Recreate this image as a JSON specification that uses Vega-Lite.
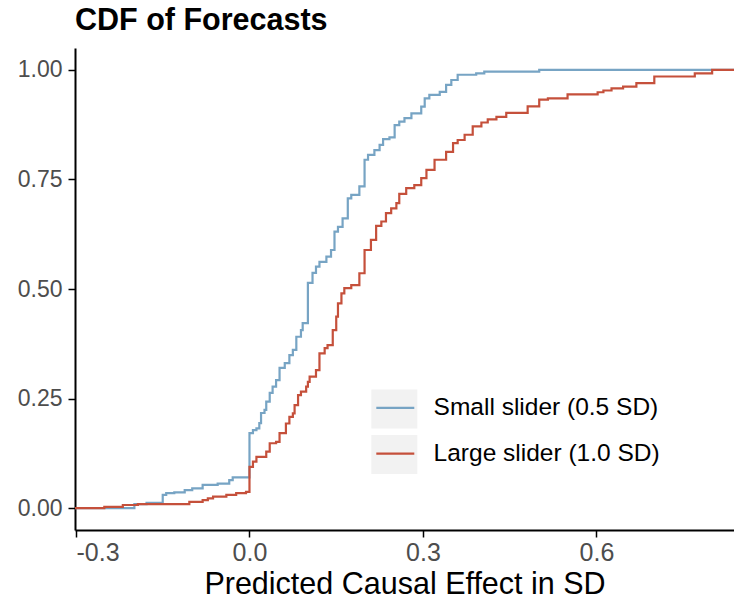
{
  "$schema": "https://vega.github.io/schema/vega-lite/v6.json",
  "width": 659,
  "height": 482,
  "autosize": {"type": "none"},
  "padding": {"left": 75, "top": 48, "right": 0, "bottom": 75},
  "background": "white",
  "title": {"text": "CDF of Forecasts", "anchor": "start", "frame": "group", "font": "Liberation Sans", "fontSize": 30.5, "fontWeight": "bold", "color": "black", "offset": 9},
  "config": {
    "view": {"stroke": null},
    "axis": {"grid": false, "domainColor": "black", "domainWidth": 2, "tickColor": "black", "tickWidth": 1.5, "tickSize": 7, "labelFont": "Liberation Sans", "labelColor": "#4D4D4D", "titleFont": "Liberation Sans", "titleColor": "black", "titleFontWeight": "normal"}
  },
  "data": {"values": [
    {"series": "Small slider (0.5 SD)", "x": -0.3017, "cdf": 0},
    {"series": "Small slider (0.5 SD)", "x": -0.199, "cdf": 0.009},
    {"series": "Small slider (0.5 SD)", "x": -0.178, "cdf": 0.012},
    {"series": "Small slider (0.5 SD)", "x": -0.150, "cdf": 0.030},
    {"series": "Small slider (0.5 SD)", "x": -0.144, "cdf": 0.034},
    {"series": "Small slider (0.5 SD)", "x": -0.130, "cdf": 0.036},
    {"series": "Small slider (0.5 SD)", "x": -0.112, "cdf": 0.041},
    {"series": "Small slider (0.5 SD)", "x": -0.099, "cdf": 0.045},
    {"series": "Small slider (0.5 SD)", "x": -0.081, "cdf": 0.053},
    {"series": "Small slider (0.5 SD)", "x": -0.055, "cdf": 0.056},
    {"series": "Small slider (0.5 SD)", "x": -0.035, "cdf": 0.064},
    {"series": "Small slider (0.5 SD)", "x": -0.029, "cdf": 0.070},
    {"series": "Small slider (0.5 SD)", "x": 0.000, "cdf": 0.171},
    {"series": "Small slider (0.5 SD)", "x": 0.006, "cdf": 0.178},
    {"series": "Small slider (0.5 SD)", "x": 0.012, "cdf": 0.182},
    {"series": "Small slider (0.5 SD)", "x": 0.017, "cdf": 0.194},
    {"series": "Small slider (0.5 SD)", "x": 0.020, "cdf": 0.217},
    {"series": "Small slider (0.5 SD)", "x": 0.026, "cdf": 0.224},
    {"series": "Small slider (0.5 SD)", "x": 0.029, "cdf": 0.243},
    {"series": "Small slider (0.5 SD)", "x": 0.035, "cdf": 0.263},
    {"series": "Small slider (0.5 SD)", "x": 0.040, "cdf": 0.277},
    {"series": "Small slider (0.5 SD)", "x": 0.046, "cdf": 0.292},
    {"series": "Small slider (0.5 SD)", "x": 0.052, "cdf": 0.320},
    {"series": "Small slider (0.5 SD)", "x": 0.061, "cdf": 0.331},
    {"series": "Small slider (0.5 SD)", "x": 0.069, "cdf": 0.349},
    {"series": "Small slider (0.5 SD)", "x": 0.075, "cdf": 0.361},
    {"series": "Small slider (0.5 SD)", "x": 0.081, "cdf": 0.391},
    {"series": "Small slider (0.5 SD)", "x": 0.089, "cdf": 0.406},
    {"series": "Small slider (0.5 SD)", "x": 0.092, "cdf": 0.422},
    {"series": "Small slider (0.5 SD)", "x": 0.101, "cdf": 0.514},
    {"series": "Small slider (0.5 SD)", "x": 0.109, "cdf": 0.537},
    {"series": "Small slider (0.5 SD)", "x": 0.115, "cdf": 0.551},
    {"series": "Small slider (0.5 SD)", "x": 0.121, "cdf": 0.562},
    {"series": "Small slider (0.5 SD)", "x": 0.133, "cdf": 0.574},
    {"series": "Small slider (0.5 SD)", "x": 0.141, "cdf": 0.589},
    {"series": "Small slider (0.5 SD)", "x": 0.147, "cdf": 0.631},
    {"series": "Small slider (0.5 SD)", "x": 0.153, "cdf": 0.642},
    {"series": "Small slider (0.5 SD)", "x": 0.161, "cdf": 0.661},
    {"series": "Small slider (0.5 SD)", "x": 0.170, "cdf": 0.707},
    {"series": "Small slider (0.5 SD)", "x": 0.176, "cdf": 0.715},
    {"series": "Small slider (0.5 SD)", "x": 0.190, "cdf": 0.734},
    {"series": "Small slider (0.5 SD)", "x": 0.199, "cdf": 0.795},
    {"series": "Small slider (0.5 SD)", "x": 0.205, "cdf": 0.806},
    {"series": "Small slider (0.5 SD)", "x": 0.216, "cdf": 0.817},
    {"series": "Small slider (0.5 SD)", "x": 0.225, "cdf": 0.829},
    {"series": "Small slider (0.5 SD)", "x": 0.231, "cdf": 0.842},
    {"series": "Small slider (0.5 SD)", "x": 0.242, "cdf": 0.846},
    {"series": "Small slider (0.5 SD)", "x": 0.251, "cdf": 0.874},
    {"series": "Small slider (0.5 SD)", "x": 0.259, "cdf": 0.882},
    {"series": "Small slider (0.5 SD)", "x": 0.268, "cdf": 0.890},
    {"series": "Small slider (0.5 SD)", "x": 0.280, "cdf": 0.901},
    {"series": "Small slider (0.5 SD)", "x": 0.297, "cdf": 0.916},
    {"series": "Small slider (0.5 SD)", "x": 0.303, "cdf": 0.935},
    {"series": "Small slider (0.5 SD)", "x": 0.311, "cdf": 0.943},
    {"series": "Small slider (0.5 SD)", "x": 0.329, "cdf": 0.950},
    {"series": "Small slider (0.5 SD)", "x": 0.340, "cdf": 0.966},
    {"series": "Small slider (0.5 SD)", "x": 0.349, "cdf": 0.977},
    {"series": "Small slider (0.5 SD)", "x": 0.360, "cdf": 0.989},
    {"series": "Small slider (0.5 SD)", "x": 0.392, "cdf": 0.992},
    {"series": "Small slider (0.5 SD)", "x": 0.406, "cdf": 0.996},
    {"series": "Small slider (0.5 SD)", "x": 0.501, "cdf": 1.0},
    {"series": "Small slider (0.5 SD)", "x": 0.8378, "cdf": 1.0},
    {"series": "Large slider (1.0 SD)", "x": -0.3017, "cdf": 0},
    {"series": "Large slider (1.0 SD)", "x": -0.251, "cdf": 0.003},
    {"series": "Large slider (1.0 SD)", "x": -0.219, "cdf": 0.007},
    {"series": "Large slider (1.0 SD)", "x": -0.193, "cdf": 0.009},
    {"series": "Large slider (1.0 SD)", "x": -0.104, "cdf": 0.014},
    {"series": "Large slider (1.0 SD)", "x": -0.081, "cdf": 0.018},
    {"series": "Large slider (1.0 SD)", "x": -0.072, "cdf": 0.022},
    {"series": "Large slider (1.0 SD)", "x": -0.063, "cdf": 0.026},
    {"series": "Large slider (1.0 SD)", "x": -0.040, "cdf": 0.030},
    {"series": "Large slider (1.0 SD)", "x": -0.023, "cdf": 0.034},
    {"series": "Large slider (1.0 SD)", "x": -0.006, "cdf": 0.037},
    {"series": "Large slider (1.0 SD)", "x": 0.000, "cdf": 0.094},
    {"series": "Large slider (1.0 SD)", "x": 0.006, "cdf": 0.106},
    {"series": "Large slider (1.0 SD)", "x": 0.012, "cdf": 0.117},
    {"series": "Large slider (1.0 SD)", "x": 0.029, "cdf": 0.129},
    {"series": "Large slider (1.0 SD)", "x": 0.035, "cdf": 0.148},
    {"series": "Large slider (1.0 SD)", "x": 0.046, "cdf": 0.151},
    {"series": "Large slider (1.0 SD)", "x": 0.052, "cdf": 0.171},
    {"series": "Large slider (1.0 SD)", "x": 0.063, "cdf": 0.193},
    {"series": "Large slider (1.0 SD)", "x": 0.069, "cdf": 0.208},
    {"series": "Large slider (1.0 SD)", "x": 0.075, "cdf": 0.216},
    {"series": "Large slider (1.0 SD)", "x": 0.078, "cdf": 0.235},
    {"series": "Large slider (1.0 SD)", "x": 0.084, "cdf": 0.258},
    {"series": "Large slider (1.0 SD)", "x": 0.089, "cdf": 0.266},
    {"series": "Large slider (1.0 SD)", "x": 0.098, "cdf": 0.277},
    {"series": "Large slider (1.0 SD)", "x": 0.101, "cdf": 0.288},
    {"series": "Large slider (1.0 SD)", "x": 0.104, "cdf": 0.300},
    {"series": "Large slider (1.0 SD)", "x": 0.115, "cdf": 0.315},
    {"series": "Large slider (1.0 SD)", "x": 0.121, "cdf": 0.353},
    {"series": "Large slider (1.0 SD)", "x": 0.130, "cdf": 0.365},
    {"series": "Large slider (1.0 SD)", "x": 0.135, "cdf": 0.372},
    {"series": "Large slider (1.0 SD)", "x": 0.144, "cdf": 0.406},
    {"series": "Large slider (1.0 SD)", "x": 0.150, "cdf": 0.437},
    {"series": "Large slider (1.0 SD)", "x": 0.153, "cdf": 0.467},
    {"series": "Large slider (1.0 SD)", "x": 0.159, "cdf": 0.490},
    {"series": "Large slider (1.0 SD)", "x": 0.164, "cdf": 0.502},
    {"series": "Large slider (1.0 SD)", "x": 0.176, "cdf": 0.509},
    {"series": "Large slider (1.0 SD)", "x": 0.190, "cdf": 0.536},
    {"series": "Large slider (1.0 SD)", "x": 0.199, "cdf": 0.589},
    {"series": "Large slider (1.0 SD)", "x": 0.210, "cdf": 0.612},
    {"series": "Large slider (1.0 SD)", "x": 0.219, "cdf": 0.644},
    {"series": "Large slider (1.0 SD)", "x": 0.228, "cdf": 0.654},
    {"series": "Large slider (1.0 SD)", "x": 0.236, "cdf": 0.673},
    {"series": "Large slider (1.0 SD)", "x": 0.245, "cdf": 0.684},
    {"series": "Large slider (1.0 SD)", "x": 0.254, "cdf": 0.696},
    {"series": "Large slider (1.0 SD)", "x": 0.259, "cdf": 0.717},
    {"series": "Large slider (1.0 SD)", "x": 0.271, "cdf": 0.730},
    {"series": "Large slider (1.0 SD)", "x": 0.285, "cdf": 0.737},
    {"series": "Large slider (1.0 SD)", "x": 0.297, "cdf": 0.753},
    {"series": "Large slider (1.0 SD)", "x": 0.306, "cdf": 0.772},
    {"series": "Large slider (1.0 SD)", "x": 0.320, "cdf": 0.795},
    {"series": "Large slider (1.0 SD)", "x": 0.340, "cdf": 0.813},
    {"series": "Large slider (1.0 SD)", "x": 0.352, "cdf": 0.833},
    {"series": "Large slider (1.0 SD)", "x": 0.360, "cdf": 0.840},
    {"series": "Large slider (1.0 SD)", "x": 0.372, "cdf": 0.852},
    {"series": "Large slider (1.0 SD)", "x": 0.386, "cdf": 0.871},
    {"series": "Large slider (1.0 SD)", "x": 0.401, "cdf": 0.880},
    {"series": "Large slider (1.0 SD)", "x": 0.412, "cdf": 0.887},
    {"series": "Large slider (1.0 SD)", "x": 0.427, "cdf": 0.893},
    {"series": "Large slider (1.0 SD)", "x": 0.444, "cdf": 0.902},
    {"series": "Large slider (1.0 SD)", "x": 0.481, "cdf": 0.917},
    {"series": "Large slider (1.0 SD)", "x": 0.501, "cdf": 0.932},
    {"series": "Large slider (1.0 SD)", "x": 0.516, "cdf": 0.935},
    {"series": "Large slider (1.0 SD)", "x": 0.550, "cdf": 0.944},
    {"series": "Large slider (1.0 SD)", "x": 0.602, "cdf": 0.949},
    {"series": "Large slider (1.0 SD)", "x": 0.612, "cdf": 0.953},
    {"series": "Large slider (1.0 SD)", "x": 0.626, "cdf": 0.958},
    {"series": "Large slider (1.0 SD)", "x": 0.646, "cdf": 0.962},
    {"series": "Large slider (1.0 SD)", "x": 0.669, "cdf": 0.970},
    {"series": "Large slider (1.0 SD)", "x": 0.700, "cdf": 0.985},
    {"series": "Large slider (1.0 SD)", "x": 0.770, "cdf": 0.992},
    {"series": "Large slider (1.0 SD)", "x": 0.800, "cdf": 1.0},
    {"series": "Large slider (1.0 SD)", "x": 0.8378, "cdf": 1.0}
  ]},
  "encoding": {
    "x": {"field": "x", "type": "quantitative",
      "scale": {"domain": [-0.3017, 0.8378], "nice": false, "zero": false},
      "axis": {"values": [-0.3, 0, 0.3, 0.6], "labelExpr": "datum.value < 0 ? '-' + format(-datum.value, '.1f') : format(datum.value, '.1f')", "labelFontSize": 25, "labelPadding": 3, "title": "Predicted Causal Effect in SD", "titleFontSize": 30.5, "titleBaseline": "alphabetic", "titleY": 63}},
    "y": {"field": "cdf", "type": "quantitative",
      "scale": {"domain": [-0.05, 1.05], "nice": false, "zero": false},
      "axis": {"values": [0, 0.25, 0.5, 0.75, 1], "format": ".2f", "labelFontSize": 23, "labelPadding": 6, "title": null}}
  },
  "layer": [
    {
      "data": {"values": [
        {"key": "Small slider (0.5 SD)"},
        {"key": "Large slider (1.0 SD)"}
      ]},
      "mark": {"type": "point", "filled": true, "opacity": 0},
      "encoding": {
        "x": {"value": 0},
        "y": {"value": 0},
        "color": {"field": "key", "type": "nominal",
          "scale": {"range": ["#F2F2F2", "#F2F2F2"]},
          "legend": {"orient": "none", "legendX": 297.8, "legendY": 339.6, "title": null, "padding": 0,
            "symbolType": "M-1.085,-0.92L1.085,-0.92L1.085,0.92L-1.085,0.92Z", "symbolSize": 1798, "symbolStrokeWidth": 0, "symbolOpacity": 1,
            "labelExpr": "''", "labelFontSize": 24, "labelOffset": 18.8, "rowPadding": 3.4,
            "encode": {"entries": {"update": {"height": {"value": 39}}}, "symbols": {"update": {"opacity": {"value": 1}, "fill": {"value": "#F2F2F2"}, "fillOpacity": {"value": 1}}}}}}
      }
    },
    {
      "mark": {"type": "line", "interpolate": "step-after", "strokeWidth": 2.2, "clip": true},
      "encoding": {
        "stroke": {"field": "series", "type": "nominal",
          "scale": {"domain": ["Small slider (0.5 SD)", "Large slider (1.0 SD)"], "range": ["#77A4C4", "#C5503B"]},
          "legend": {"orient": "none", "legendX": 297.8, "legendY": 337.4, "title": null, "padding": 0,
            "symbolType": "M-0.896,0L0.896,0", "symbolSize": 1798, "symbolStrokeWidth": 2.2,
            "labelFont": "Liberation Sans", "labelFontSize": 24.5, "labelColor": "black", "labelOffset": 15.8, "labelLimit": 0, "rowPadding": 11.8}}
      }
    }
  ]
}
